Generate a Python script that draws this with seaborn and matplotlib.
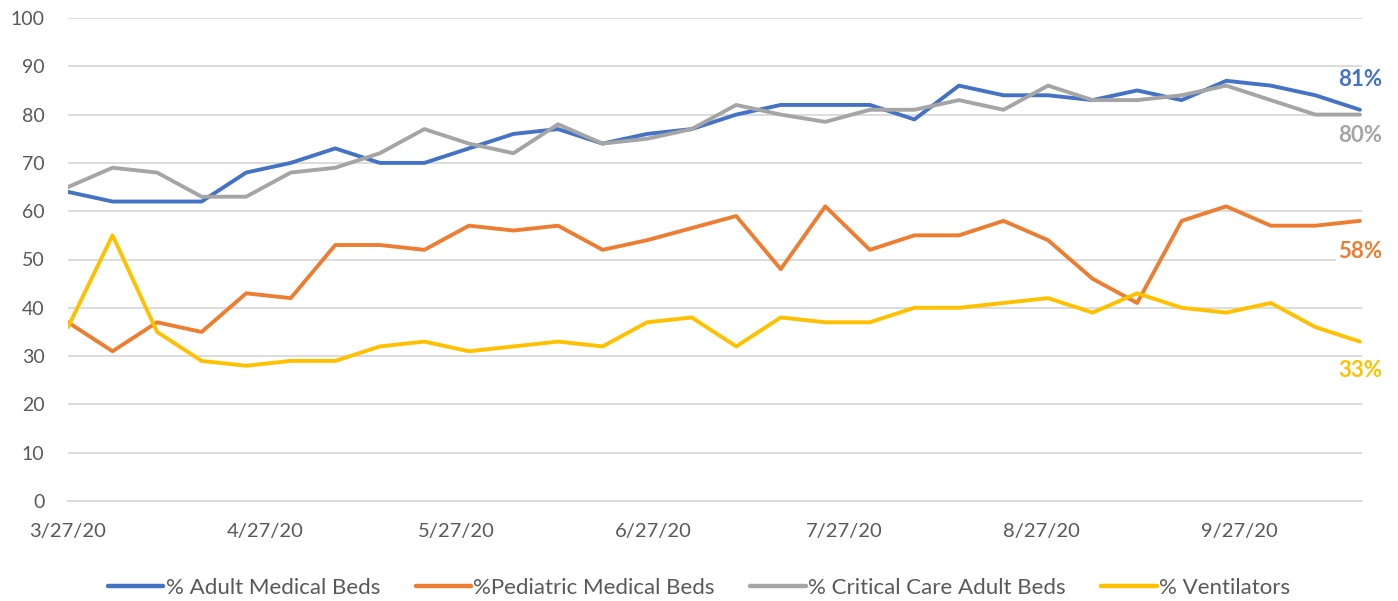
import pandas as pd
import matplotlib.pyplot as plt
import matplotlib.dates as mdates
import seaborn as sns

dates = [
    "2020-03-27", "2020-04-03", "2020-04-10", "2020-04-17", "2020-04-24",
    "2020-05-01", "2020-05-08", "2020-05-15", "2020-05-22", "2020-05-29",
    "2020-06-05", "2020-06-12", "2020-06-19", "2020-06-26", "2020-07-03",
    "2020-07-10", "2020-07-17", "2020-07-24", "2020-07-31", "2020-08-07",
    "2020-08-14", "2020-08-21", "2020-08-28", "2020-09-04", "2020-09-11",
    "2020-09-18", "2020-09-25", "2020-10-02", "2020-10-09", "2020-10-16",
]
adult_medical = [64, 62, 62, 62, 68, 70, 73, 70, 70, 73,
                 76, 77, 74, 76, 77, 80, 82, 82, 82, 79,
                 86, 84, 84, 83, 85, 83, 87, 86, 84, 81]
pediatric_medical = [37, 31, 37, 35, 43, 42, 53, 53, 52, 57,
                     56, 57, 52, 54, 56.5, 59, 48, 61, 52, 55,
                     55, 58, 54, 46, 41, 58, 61, 57, 57, 58]
critical_care = [65, 69, 68, 63, 63, 68, 69, 72, 77, 74,
                 72, 78, 74, 75, 77, 82, 80, 78.5, 81, 81,
                 83, 81, 86, 83, 83, 84, 86, 83, 80, 80]
ventilators = [36, 55, 35, 29, 28, 29, 29, 32, 33, 31,
               32, 33, 32, 37, 38, 32, 38, 37, 37, 40,
               40, 41, 42, 39, 43, 40, 39, 41, 36, 33]

series_names = ["% Adult Medical Beds", "%Pediatric Medical Beds",
                "% Critical Care Adult Beds", "% Ventilators"]
series_values = [adult_medical, pediatric_medical, critical_care, ventilators]
end_labels = ["81%", "58%", "80%", "33%"]
colors = ["#4472C4", "#ED7D31", "#A5A5A5", "#FFC000"]

df = pd.DataFrame({"date": pd.to_datetime(dates)})
for name, vals in zip(series_names, series_values):
    df[name] = vals
long_df = df.melt(id_vars="date", var_name="series", value_name="pct")

sns.set_style("white")
plt.rcParams["font.family"] = ["Lato", "DejaVu Sans"]

fig = plt.figure(figsize=(13.98, 6.01), dpi=100)
ax = fig.add_axes([68 / 1398, 100 / 601, 1294 / 1398, 483 / 601])

sns.lineplot(data=long_df, x="date", y="pct", hue="series", hue_order=series_names,
             palette=colors, linewidth=2.8, ax=ax)

ax.set_xlim(df["date"].iloc[0], df["date"].iloc[-1] + pd.Timedelta(hours=8))
ax.set_ylim(0, 100)
ax.set_yticks(range(0, 101, 10))
ax.xaxis.set_major_locator(mdates.MonthLocator(bymonthday=27))
ax.xaxis.set_major_formatter(mdates.DateFormatter("%-m/%d/%y"))
ax.set_xlabel("")
ax.set_ylabel("")

ax.yaxis.grid(True, color="#D9D9D9", linewidth=1.3)
ax.set_axisbelow(True)
for side in ["top", "right", "left"]:
    ax.spines[side].set_visible(False)
ax.spines["bottom"].set_color("#D9D9D9")
ax.spines["bottom"].set_linewidth(1.3)

ax.tick_params(axis="y", length=0, pad=17, labelsize=14, labelcolor="#595959")
ax.tick_params(axis="x", length=4, width=1.2, color="#D9D9D9", pad=12,
               labelsize=14.5, labelcolor="#595959")

# end-of-line value labels
offsets = [30, -31, -21, -29]
for name, label, color, dy in zip(series_names, end_labels, colors, offsets):
    ax.annotate(label, (df["date"].iloc[-1], df[name].iloc[-1]),
                xytext=(0, dy), textcoords="offset pixels",
                ha="center", va="center", color=color, fontsize=16,
                fontweight="bold", annotation_clip=False,
                bbox=dict(boxstyle="square,pad=0.1", fc="white", ec="none"))

sns.move_legend(ax, "center", bbox_to_anchor=(0.5, 13 / 601),
                bbox_transform=fig.transFigure, ncol=4, frameon=False, title=None,
                fontsize=16, handlelength=2.5, handletextpad=0.1,
                columnspacing=1.6, labelcolor="#595959")
for line in ax.get_legend().get_lines():
    line.set_linewidth(3.2)

plt.savefig("out.png", dpi=100)
